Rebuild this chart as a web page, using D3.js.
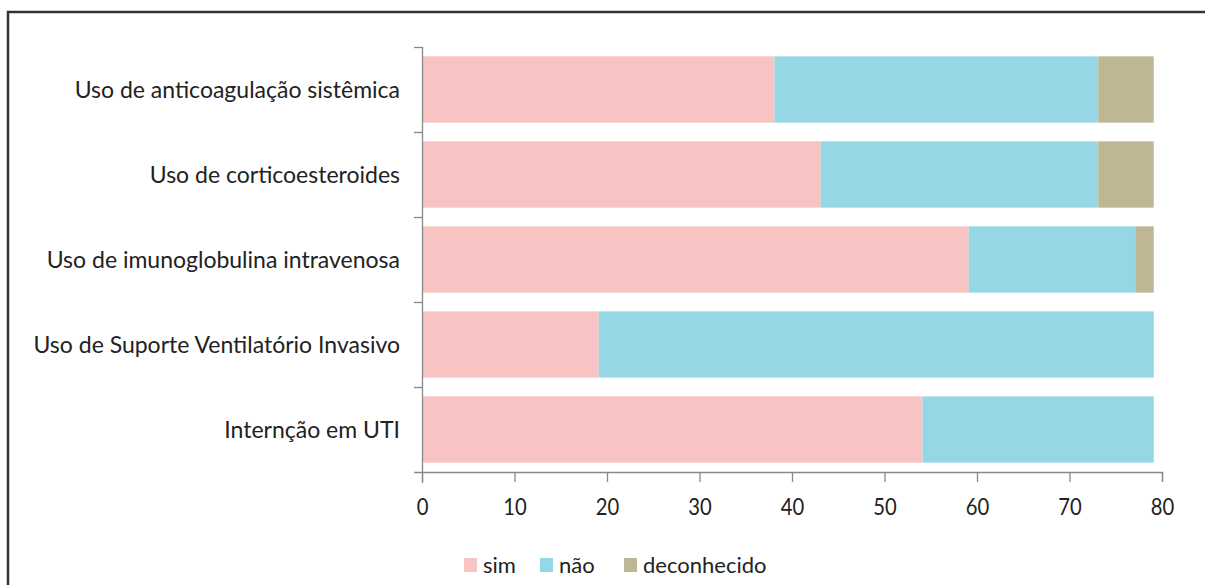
<!DOCTYPE html>
<html>
<head>
<meta charset="utf-8">
<script src="https://cdn.jsdelivr.net/npm/d3@7"></script>
<style>
  body { margin: 0; background: #fff; }
  text { font-family: Lato, "Open Sans", sans-serif; fill: #222; }
</style>
</head>
<body>
<div id="chart"></div>
<script>
var categories = [
  "Uso de anticoagulação sistêmica",
  "Uso de corticoesteroides",
  "Uso de imunoglobulina intravenosa",
  "Uso de Suporte Ventilatório Invasivo",
  "Internção em UTI"
];
var seriesNames = ["sim", "não", "deconhecido"];
var simValues = [38, 43, 59, 19, 54];
var naoValues = [35, 30, 18, 60, 25];
var descValues = [6, 6, 2, 0, 0];
var xTicks = [0, 10, 20, 30, 40, 50, 60, 70, 80];
var colors = ["#f8c4c3", "#96d7e5", "#bfb794"];

var svgWidth = 1205;
var svgHeight = 585;

var svg = d3.select("#chart")
  .append("svg")
  .attr("width", svgWidth)
  .attr("height", svgHeight);

// frame
svg.append("rect")
  .attr("x", 8)
  .attr("y", 12)
  .attr("width", 1230)
  .attr("height", 620)
  .attr("fill", "none")
  .attr("stroke", "#333")
  .attr("stroke-width", 2.5);

var rows = categories.map(function(c, i) {
  return { cat: c, "sim": simValues[i], "não": naoValues[i], "deconhecido": descValues[i] };
});

var stacked = d3.stack().keys(seriesNames)(rows);

var xScale = d3.scaleLinear()
  .domain([0, 80])
  .range([422, 1162]);

var yScale = d3.scaleBand()
  .domain(categories)
  .range([47, 472])
  .paddingInner(0.22)
  .paddingOuter(0.11);

var layers = svg.selectAll("g.layer")
  .data(stacked)
  .enter()
  .append("g")
  .attr("class", "layer")
  .attr("fill", (d, i) => colors[i]);

layers.selectAll("rect")
  .data(d => d)
  .enter()
  .append("rect")
  .attr("x", d => xScale(d[0]) + 1)
  .attr("y", d => yScale(d.data.cat))
  .attr("width", d => Math.max(0, xScale(d[1]) - xScale(d[0])))
  .attr("height", yScale.bandwidth());

// x axis
var bottomAxis = d3.axisBottom(xScale)
  .tickValues(xTicks)
  .tickSize(10)
  .tickPadding(17);

var xAxisG = svg.append("g")
  .attr("transform", "translate(0, 472)")
  .call(bottomAxis);
xAxisG.select(".domain").attr("d", "M414,0.5H1162.5V10");
xAxisG.selectAll("line").attr("stroke", "#888").attr("stroke-width", 1.3);
xAxisG.select(".domain").attr("stroke", "#888").attr("stroke-width", 1.3);
xAxisG.selectAll("text")
  .style("font-size", "23px")
  .style("font-family", "Lato, sans-serif")
  .attr("transform", "scale(0.88,1)")
  .attr("x", function() { return 0; })
  .attr("fill", "#222");

// y axis: ticks at category boundaries
var yLine = svg.append("g").attr("stroke", "#888").attr("stroke-width", 1.3);
yLine.append("line")
  .attr("x1", 422.5).attr("x2", 422.5)
  .attr("y1", 47).attr("y2", 483);
var bounds = categories.map(c => yScale(c) - yScale.step() * yScale.paddingInner() / 2);
bounds.forEach(function(b) {
  yLine.append("line")
    .attr("x1", 414).attr("x2", 422.5)
    .attr("y1", Math.round(b) + 0.5).attr("y2", Math.round(b) + 0.5);
});

svg.append("g")
  .selectAll("text")
  .data(categories)
  .enter()
  .append("text")
  .attr("x", 400)
  .attr("y", d => yScale(d) + yScale.bandwidth() / 2)
  .attr("dy", "0.35em")
  .attr("text-anchor", "end")
  .style("font-size", "23px")
  .text(d => d);

// legend
var legendX = [464, 540, 624];
var legend = svg.append("g")
  .selectAll("g")
  .data(seriesNames)
  .enter()
  .append("g")
  .attr("transform", (d, i) => `translate(${legendX[i]}, 565)`);

legend.append("rect")
  .attr("x", 0)
  .attr("y", -7)
  .attr("width", 13)
  .attr("height", 14)
  .attr("fill", (d, i) => colors[i]);

legend.append("text")
  .attr("x", 19)
  .attr("dy", "0.35em")
  .style("font-size", "22px")
  .text(d => d);
</script>
</body>
</html>
